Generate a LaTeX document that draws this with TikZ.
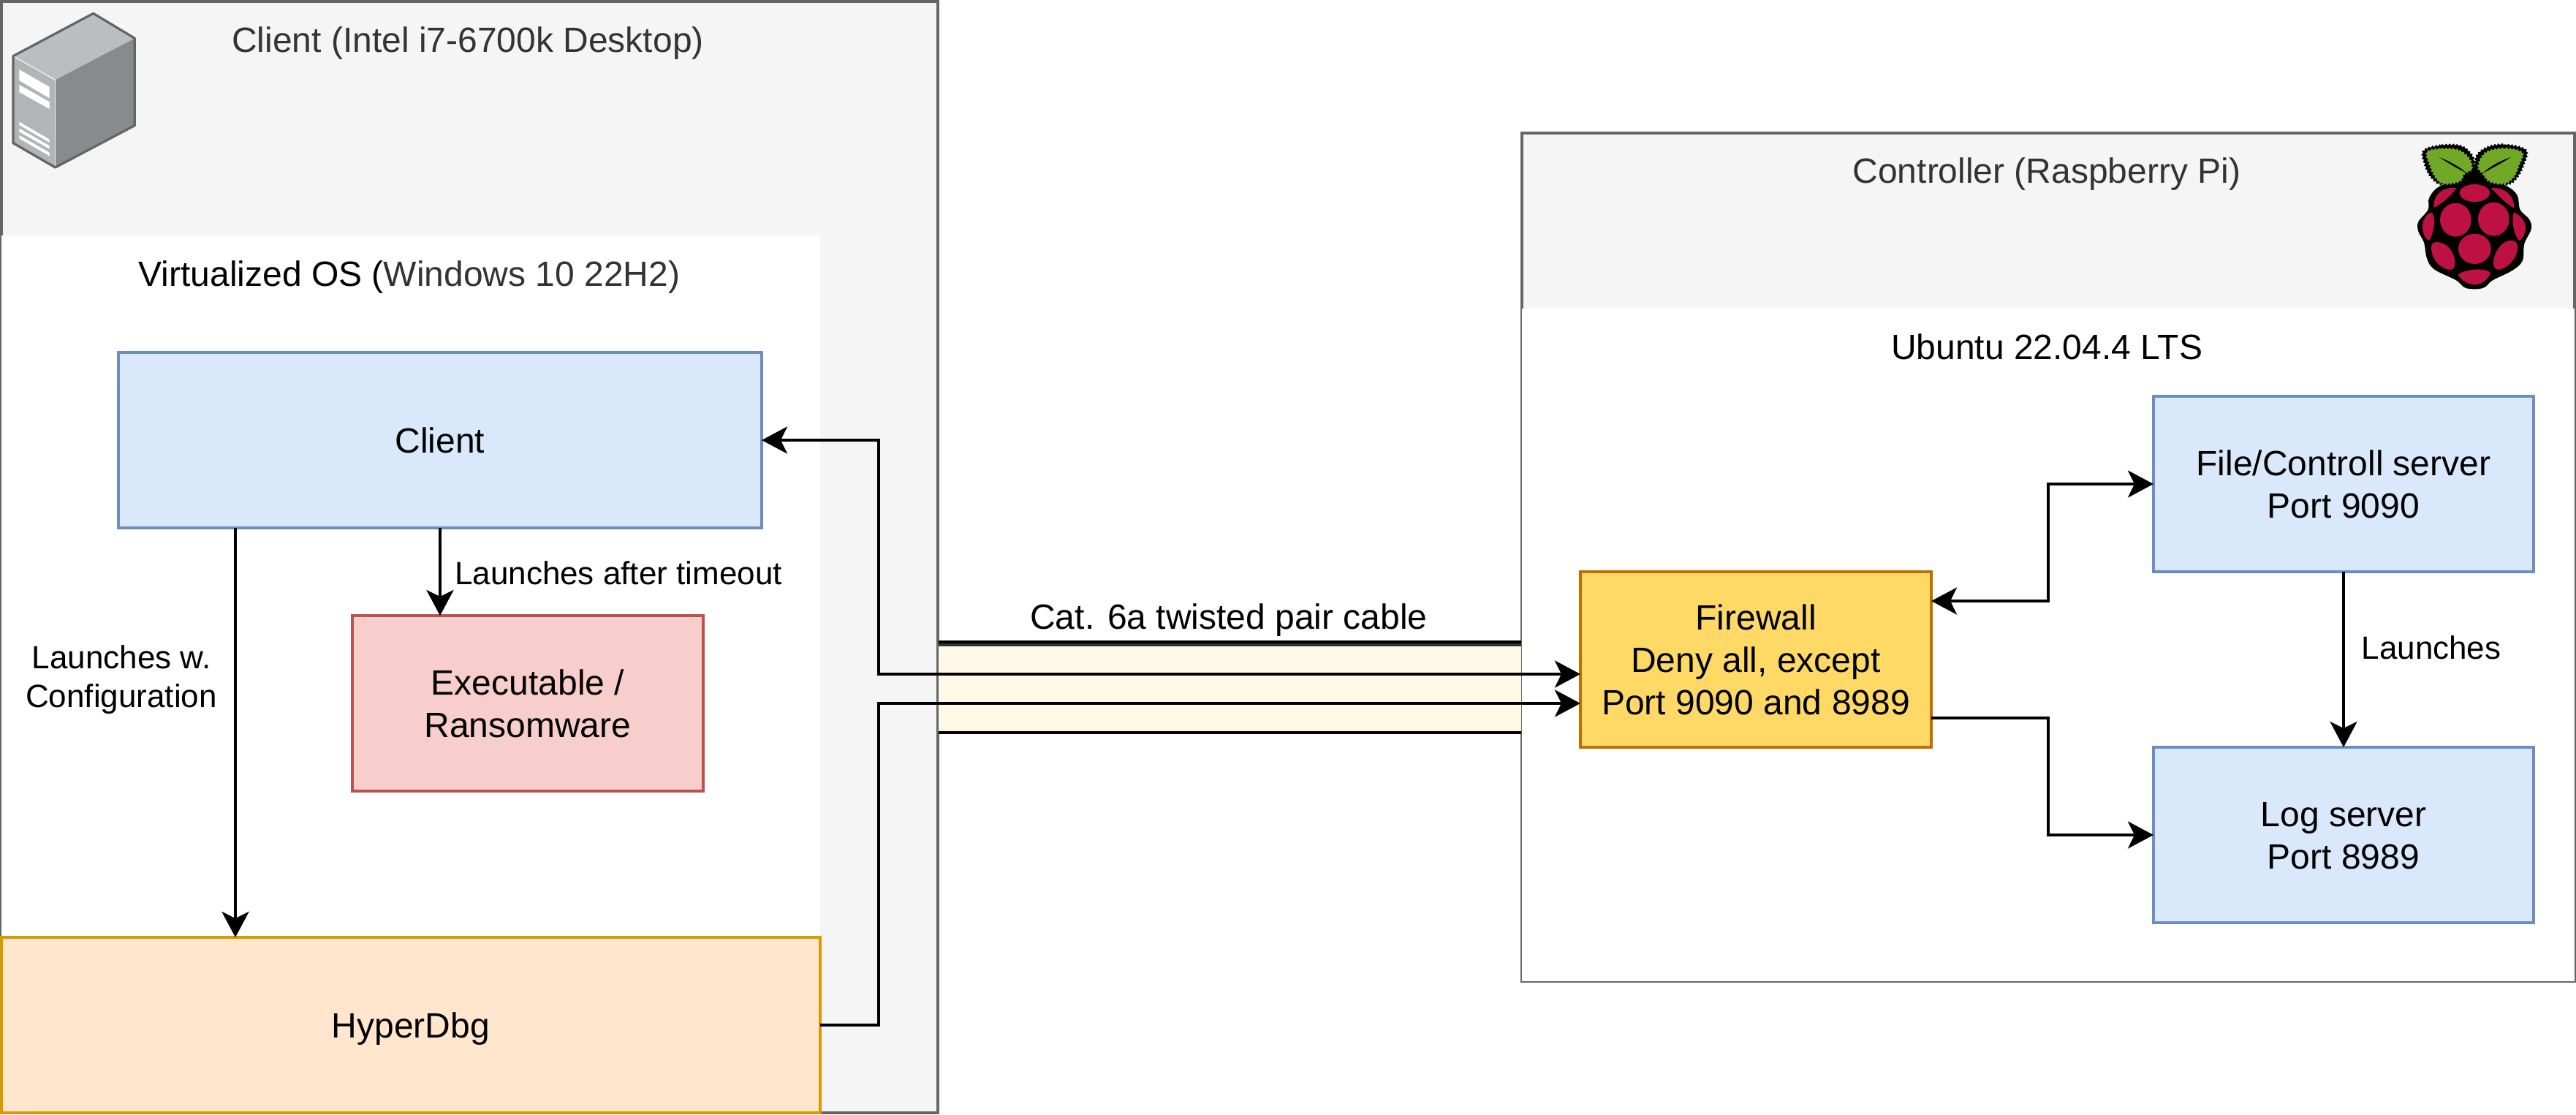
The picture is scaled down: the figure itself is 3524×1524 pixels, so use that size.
\documentclass[tikz,border=0pt]{standalone}
\usepackage{fontspec}
\setmainfont{Liberation Sans}
\usetikzlibrary{arrows.meta,positioning,decorations.pathmorphing}
\definecolor{frameFill}{HTML}{F5F5F5}
\definecolor{frameLine}{HTML}{666666}
\definecolor{titleText}{HTML}{333333}
\definecolor{blueFill}{HTML}{DAE8FC}
\definecolor{blueLine}{HTML}{6C8EBF}
\definecolor{redFill}{HTML}{F8CECC}
\definecolor{redLine}{HTML}{B85450}
\definecolor{orangeFill}{HTML}{FFE6CC}
\definecolor{orangeLine}{HTML}{D79B00}
\definecolor{fwFill}{HTML}{FFD966}
\definecolor{fwLine}{HTML}{BD7000}
\definecolor{cableFill}{HTML}{FEF8E6}
\definecolor{srvTop}{HTML}{BCBDBF}
\definecolor{srvSide}{HTML}{898A8E}
\definecolor{srvFront}{HTML}{B3B4B6}
\definecolor{srvLine}{HTML}{636466}
\definecolor{leafGreen}{HTML}{72A827}
\definecolor{berryRed}{HTML}{BC1142}
\newcommand{\bigtop}{\rule{0pt}{45pt}}
\newcommand{\bigbot}{\rule[-10pt]{0pt}{10pt}}
\newcommand{\smalltop}{\rule{0pt}{42pt}}
\newcommand{\twotop}{\rule{0pt}{102.6pt}}
\newcommand{\threetop}{\rule{0pt}{160.2pt}}
\newcommand{\twosmalltop}{\rule{0pt}{94.8pt}}
\tikzset{
  x=1pt,y=-1pt,
  framebox/.style={draw=frameLine,fill=frameFill,line width=4pt,minimum width=#1,inner sep=0pt,outer sep=0pt,rectangle},
  plainbox/.style={draw=none,fill=white,inner sep=0pt,outer sep=0pt,rectangle},
  bigtext/.style={align=center,font=\fontsize{48}{57.6}\selectfont,execute at begin node=\bigtop,execute at end node=\bigbot},
  twolines/.style={execute at begin node=\twotop},
  threelines/.style={execute at begin node=\threetop},
  boxbase/.style={rectangle,line width=4pt,inner sep=0pt,outer sep=0pt,bigtext},
  bluebox/.style={boxbase,draw=blueLine,fill=blueFill},
  redbox/.style={boxbase,draw=redLine,fill=redFill},
  orangebox/.style={boxbase,draw=orangeLine,fill=orangeFill},
  fwbox/.style={boxbase,draw=fwLine,fill=fwFill},
  title/.style={inner sep=0pt,outer sep=0pt,bigtext},
  edgelabel/.style={inner sep=0pt,outer sep=0pt,align=center,font=\fontsize{44}{52.8}\selectfont,execute at begin node=\smalltop,execute at end node=\bigbot},
  conn/.style={line width=4pt,draw=black,-{Stealth[length=35pt,width=37pt,inset=9pt]}},
  biconn/.style={line width=4pt,draw=black,{Stealth[length=35pt,width=37pt,inset=9pt]}-{Stealth[length=35pt,width=37pt,inset=9pt]}},
  cableline/.style={line width=4pt,draw=black},
  serrated/.style={decorate,decoration={zigzag,amplitude=1.3pt,segment length=5pt}}
}
\begin{document}
\begin{tikzpicture}
\useasboundingbox (0,0) rectangle (3524,1524);
\clip (0,0) rectangle (3524,1524);
\fill[white] (0,0) rectangle (3524,1524);

% Client frame
\node[framebox=1281pt,minimum height=1520pt] (clientframe) at (642.5,762) {};
\node[plainbox,minimum width=1120pt,minimum height=960pt] (vm) at (562,802) {};

% Controller frame
\node[framebox=1440pt,minimum height=1160pt] (ctrlframe) at (2802,762) {};
\node[plainbox,minimum width=1440pt,minimum height=920pt] (ubuntu) at (2802,882) {};

% Cable
\node[rectangle,fill=cableFill,inner sep=0pt,outer sep=0pt,minimum width=797pt,minimum height=120pt] (cable) at (1682,942) {};
\draw[cableline] ([yshift=4pt]cable.north west) -- ([yshift=4pt]cable.north east);
\draw[line width=4pt,draw=titleText] (cable.north west) -- (cable.north east);
\draw[cableline] (cable.south west) -- (cable.south east);

% Titles
\node[title,text=titleText] (clientTitle) at (640,53.5) {Client (Intel i7-6700k Desktop)};
\node[title] (vmTitle) at (560,374.2) {Virtualized OS (\textcolor{titleText}{Windows 10 22H2)}};
\node[title,text=titleText] (ctrlTitle) at (2800,233.3) {Controller (Raspberry Pi)};
\node[title] (ubuntuTitle) at (2800,474) {Ubuntu 22.04.4 LTS};
\node[title] (cableTitle) at (1681,843.3) {Cat. 6a twisted pair cable};

% Boxes
\node[bluebox,minimum width=880pt,minimum height=240pt] (client) at (602,602) {Client};
\node[redbox,twolines,minimum width=480pt,minimum height=240pt] (exe) at (722,962) {Executable /\\Ransomware};
\node[orangebox,minimum width=1120pt,minimum height=240pt] (hyper) at (562,1402) {HyperDbg};
\node[fwbox,threelines,minimum width=480pt,minimum height=240pt] (fw) at (2402,902) {Firewall\\Deny all, except\\Port 9090 and 8989};
\node[bluebox,twolines,minimum width=520pt,minimum height=240pt] (file) at (3206,662) {File/Controll server\\Port 9090};
\node[bluebox,twolines,minimum width=520pt,minimum height=240pt] (log) at (3206,1142) {Log server\\Port 8989};

% Connectors
\draw[conn] ([xshift=160pt]client.south west) -- ([xshift=320pt]hyper.north west);
\draw[conn] (client.south) -- ([xshift=120pt]exe.north west);
\draw[biconn] (client.east) -| (1202,922) -- ([yshift=-20pt]fw.west);
\draw[conn] (hyper.east) -| (1202,962) -- ([yshift=-60pt]fw.west);
\draw[biconn] ([yshift=80pt]fw.east) -| (2802,662) -- (file.west);
\draw[conn] ([yshift=-80pt]fw.east) -| (2802,1142) -- (log.west);
\draw[conn] (file.south) -- (log.north);

% Edge labels
\node[edgelabel] (lblTimeout) at (846,783.4) {Launches after timeout};
\node[edgelabel,execute at begin node=\twosmalltop] (lblConfig) at (166,924.6) {Launches w.\hspace{12pt}\\Configuration};
\node[edgelabel] (lblLaunches) at (3326,885) {Launches};

% Server icon
\begin{scope}[x=0.33333pt,y=-0.33333pt,line join=round]
  \fill[srvTop] (383,55) -- (553,157) -- (227,328) -- (54,230) -- cycle;
  \fill[srvSide] (553,157) -- (553,515) -- (227,687) -- (227,328) -- cycle;
  \fill[srvFront] (54,230) -- (227,328) -- (227,687) -- (54,587) -- cycle;
  \draw[white!85!srvFront,line width=1.2pt] (54,230) -- (227,328);
  \draw[white!85!srvFront,line width=1.2pt] (227,328) -- (227,687);
  \draw[srvLine,line width=3.2pt] (383,55) -- (553,157) -- (553,515) -- (227,687) -- (54,587) -- (54,230) -- cycle;
  \fill[white] (79,285) -- (203,357) -- (203,403) -- (79,330) -- cycle;
  \fill[white] (79,348) -- (203,418) -- (203,447) -- (79,378) -- cycle;
  \fill[white] (79,500) -- (203,572) -- (203,585) -- (79,513) -- cycle;
  \fill[white] (79,527) -- (203,598) -- (203,611) -- (79,541) -- cycle;
  \fill[white] (79,555) -- (203,626) -- (203,640) -- (79,568) -- cycle;
\end{scope}

% Raspberry icon
\begin{scope}[shift={(3240,160)},x=0.33333pt,y=-0.33333pt]
  \fill[black] plot[smooth cycle,tension=0.6] coordinates {(436,235) (560,280) (610,320) (622,380) (660,420) (668,460) (640,520) (632,590) (590,630) (510,670) (470,702) (400,702) (360,670) (270,625) (240,580) (228,515) (205,470) (205,430) (245,380) (250,330) (300,280)};
  \fill[black,serrated] plot[smooth cycle,tension=0.6] coordinates {(225,138) (300,115) (380,118) (425,155) (436,200) (436,262) (380,272) (300,278) (258,250) (232,200)};
  \fill[black,serrated] plot[smooth cycle,tension=0.6] coordinates {(647,135) (560,112) (490,122) (445,155) (436,200) (436,262) (495,272) (570,278) (610,250) (638,195)};
  \fill[leafGreen,serrated] plot[smooth cycle,tension=0.6] coordinates {(240,143) (300,130) (370,135) (415,170) (425,215) (395,232) (375,265) (310,275) (275,250) (250,195)};
  \fill[leafGreen,serrated] plot[smooth cycle,tension=0.6] coordinates {(632,145) (560,128) (490,140) (460,170) (450,210) (468,232) (495,265) (555,275) (595,250) (620,195)};
  \fill[black] (290,165) .. controls (330,180) and (375,205) .. (400,228) .. controls (370,215) and (330,190) .. (290,165) -- cycle;
  \fill[black] (585,165) .. controls (540,180) and (495,205) .. (470,230) .. controls (500,215) and (545,190) .. (585,165) -- cycle;
  \fill[berryRed] (436,312) ellipse [x radius=62,y radius=36];
  \fill[berryRed] (362,292) .. controls (330,285) and (265,300) .. (268,372) .. controls (300,360) and (340,320) .. (362,292) -- cycle;
  \fill[berryRed] (503,292) .. controls (540,285) and (600,310) .. (598,375) .. controls (570,360) and (530,320) .. (503,292) -- cycle;
  \fill[berryRed] (358,422) ellipse [x radius=64,y radius=69];
  \fill[berryRed] (514,419) ellipse [x radius=64,y radius=69];
  \fill[berryRed] (262,392) .. controls (235,395) and (222,425) .. (222,450) .. controls (222,480) and (235,505) .. (250,507) .. controls (265,480) and (280,430) .. (262,392) -- cycle;
  \fill[berryRed] (596,392) .. controls (625,400) and (645,430) .. (645,455) .. controls (645,480) and (630,505) .. (618,507) .. controls (600,490) and (585,430) .. (596,392) -- cycle;
  \fill[berryRed] (436,541) ellipse [x radius=67,y radius=62];
  \fill[berryRed] (258,530) .. controls (262,505) and (300,510) .. (325,530) .. controls (355,560) and (365,610) .. (345,625) .. controls (320,635) and (255,600) .. (258,530) -- cycle;
  \fill[berryRed] (612,530) .. controls (610,500) and (570,500) .. (545,525) .. controls (515,555) and (500,610) .. (525,625) .. controls (550,635) and (615,590) .. (612,530) -- cycle;
  \fill[berryRed] (368,648) .. controls (390,625) and (480,615) .. (502,640) .. controls (490,670) and (460,688) .. (436,688) .. controls (410,688) and (380,670) .. (368,648) -- cycle;
\end{scope}
\end{tikzpicture}
\end{document}
